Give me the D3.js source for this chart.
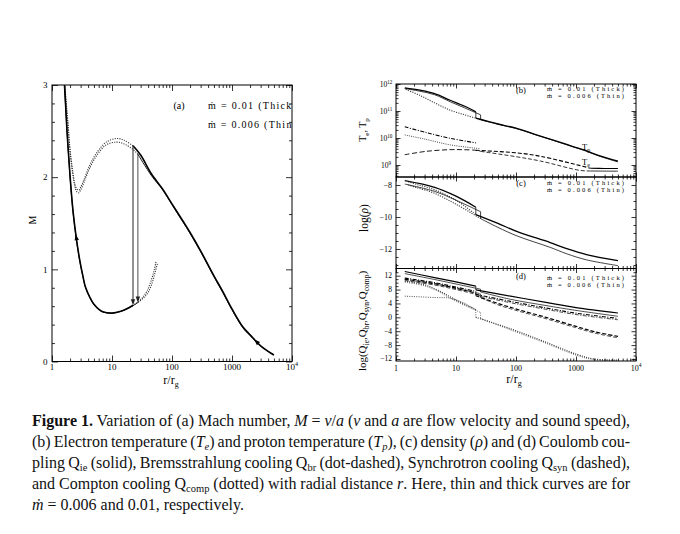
<!DOCTYPE html>
<html><head><meta charset="utf-8">
<script src="https://cdn.jsdelivr.net/npm/d3@7"></script>
<style>
html,body{margin:0;padding:0;background:#fff;}
#wrap{position:relative;width:680px;height:534px;overflow:hidden;background:#fff;}
svg{position:absolute;left:0;top:0;}
.cap{position:absolute;left:32px;height:21px;line-height:21px;white-space:nowrap;font-family:"Liberation Serif","Times New Roman",serif;font-size:16px;color:#111;}
.cap sub{font-size:10.5px;vertical-align:-3px;line-height:0;}
</style></head><body><div id="wrap"></div>
<script>
// ===================== DATA =====================
// common x ticks (r / r_g)
const xMajorTicks = [1, 10, 100, 1000, 10000];
const xTickLabels = [["1"], ["10"], ["100"], ["1000"], ["10", "4"]];

// ---- panel (a): Mach number ----
const mTicks = [0, 1, 2, 3];
const shockR = [22.4, 27];            // thick, thin shock locations
const shockTopM = [2.34, 2.25];
const shockBotM = [0.61, 0.64];
const supR_thick = [5000,4000,3000,2000,1500,1000,700,500,300,200,150,100,70,45,30,22.4,16,12,8,5.5,4.2,3.4,3.0,2.8,2.6,2.4,2.2,2.0,1.85,1.72,1.62];
const supM_thick = [0.07,0.11,0.17,0.29,0.38,0.57,0.76,0.93,1.20,1.40,1.53,1.71,1.87,2.04,2.24,2.34,2.40,2.42,2.38,2.26,2.12,1.97,1.89,1.86,1.87,1.93,2.08,2.30,2.58,2.82,3.05];
const supR_thin = [5000,4000,3000,2000,1500,1000,700,500,300,200,150,100,70,45,27,22.4,16,12,8,5.5,4.2,3.4,3.0,2.8,2.6,2.4,2.2,2.0,1.85,1.72,1.62];
const supM_thin = [0.07,0.11,0.17,0.28,0.37,0.56,0.75,0.92,1.19,1.39,1.52,1.70,1.86,2.02,2.25,2.30,2.36,2.38,2.35,2.23,2.09,1.94,1.86,1.83,1.84,1.90,2.05,2.27,2.55,2.80,3.03];
const subR_thick = [54,50,44,38,32,27,22.4,18,14,10,7,6.2,5,4.25,3.6,3.29,2.9,2.54,2.25,2.05,1.9,1.78,1.68,1.6];
const subM_thick = [1.08,0.98,0.86,0.76,0.69,0.645,0.61,0.575,0.545,0.525,0.54,0.56,0.62,0.70,0.81,0.92,1.10,1.34,1.62,1.92,2.22,2.50,2.80,3.05];
const subR_thin = [57,52,46,40,33,27,22.4,18,14,10,7,6.2,5,4.25,3.6,3.29,2.9,2.54,2.25,2.05,1.9,1.78,1.68,1.6];
const subM_thin = [1.06,0.96,0.84,0.75,0.685,0.64,0.605,0.572,0.543,0.523,0.538,0.558,0.615,0.695,0.805,0.915,1.09,1.33,1.61,1.91,2.21,2.49,2.79,3.04];
const arrowSupR = [2900, 2350], arrowSupM = [0.18, 0.24];
const arrowSubR = [2.75, 2.5], arrowSubM = [1.2, 1.38];

// ---- panel (b): temperatures (K) ----
const tTicks = [1e9, 1e10, 1e11, 1e12];
const tTickLabels = [["10","9"],["10","10"],["10","11"],["10","12"]];
const TpPostThickR = [1.4,2.5,4.4,8,14,21.4];
const TpPostThick  = [7.2e11,5.9e11,4.4e11,2.5e11,1.5e11,9.3e10];
const TpPostThinR  = [1.4,2.5,4.4,8,14,25.7];
const TpPostThin   = [6.8e11,5.4e11,4.0e11,2.2e11,1.3e11,7.2e10];
const TpPreR = [1.45,2.5,4.4,8,14,21.4,25.7];
const TpPre  = [6.3e11,3.8e11,2.0e11,1.07e11,7.2e10,5.4e10,4.7e10];
const TpOutThickR = [21.4,50,100,200,370,700,1350,2500,5000];
const TpOutThick  = [5.4e10,3.3e10,2.3e10,1.4e10,9.1e9,5.8e9,3.6e9,2.2e9,1.4e9];
const TpOutThinR  = [25.7,50,100,200,370,700,1350,2500,5000];
const TpOutThin   = [4.7e10,3.25e10,2.25e10,1.38e10,8.9e9,5.6e9,3.5e9,2.1e9,1.3e9];
const TePostThickR = [1.4,3.16,7.9,21.4];
const TePostThick  = [2.6e10,1.6e10,9.8e9,6.6e9];
const TePostThinR  = [1.4,3.16,7.9,25.7];
const TePostThin   = [1.3e10,8.9e9,5.6e9,4.0e9];
const TePreR = [1.4,3.16,7.9,12.6,21.4,25.7];
const TePre  = [2.4e9,3.2e9,3.7e9,3.7e9,3.5e9,3.2e9];
const TeOutThickR = [21.4,105,257,1175,1740,3000,5000];
const TeOutThick  = [3.5e9,2.8e9,2.1e9,9.5e8,7.6e8,7.45e8,7.4e8];
const TeOutThinR  = [25.7,105,257,1175,1740,3000,5000];
const TeOutThin   = [3.2e9,2.0e9,1.4e9,6.3e8,6.0e8,5.95e8,5.9e8];

// ---- panel (c): log density ----
const rhoTicks = [-8, -10, -12];
const rhoPostThickR = [1.4,4.4,10,21.4],  rhoPostThick = [-7.73,-8.15,-8.7,-9.39];
const rhoPostThinR  = [1.4,4.4,10,25.7],  rhoPostThin  = [-7.94,-8.4,-8.95,-9.67];
const rhoPreThickR  = [1.6,2.3,4.4,10,21.4], rhoPreThick = [-7.8,-7.98,-8.3,-8.95,-9.85];
const rhoPreThinR   = [1.6,2.3,4.4,10,25.7], rhoPreThin  = [-8.0,-8.18,-8.52,-9.2,-10.1];
const rhoOutThickR  = [21.4,50,105,372,700,1500,5000], rhoOutThick = [-9.85,-10.4,-10.92,-11.6,-11.98,-12.35,-12.73];
const rhoOutThinR   = [25.7,50,105,372,700,1500,5000], rhoOutThin  = [-10.1,-10.65,-11.19,-11.9,-12.3,-12.68,-13.04];

// ---- panel (d): log heating / cooling rates ----
const qTicks = [12, 8, 4, 0, -4, -8, -12];
const QieInThickR = [1.4,4.4,10,21.4],  QieInThick = [13.2,11.45,10.2,9.0];
const QieInThinR  = [1.4,4.4,10,25.7],  QieInThin  = [12.6,10.9,9.6,8.1];
const QieOutThickR = [21.4,81,316,1000,5000], QieOutThick = [7.9,6.1,4.3,2.8,1.25];
const QieOutThinR  = [25.7,81,316,1000,5000], QieOutThin  = [7.3,5.2,3.4,2.0,0.3];
const QbrInThickR = [1.4,4.4,10,21.4],  QbrInThick = [11.3,10.0,8.7,7.5];
const QbrInThinR  = [1.4,4.4,10,25.7],  QbrInThin  = [10.9,9.6,8.3,6.8];
const QbrOutThickR = [21.4,81,316,1000,5000], QbrOutThick = [6.6,4.6,2.7,1.2,-0.3];
const QbrOutThinR  = [25.7,81,316,1000,5000], QbrOutThin  = [6.0,4.2,2.3,0.8,-0.7];
const QsynInThickR = [1.4,4.4,10,21.4], QsynInThick = [11.0,9.7,8.4,7.0];
const QsynInThinR  = [1.4,4.4,10,25.7], QsynInThin  = [10.6,9.3,8.0,6.3];
const QsynOutThickR = [21.4,50,105,316,1000,2000,5000], QsynOutThick = [6.2,4.0,2.3,0.0,-2.6,-4.1,-5.5];
const QsynOutThinR  = [25.7,50,105,316,1000,2000,5000], QsynOutThin  = [5.7,3.6,1.9,-0.4,-3.0,-4.5,-5.9];
const QcompInThickR = [1.4,2.95,5,10,21.4], QcompInThick = [10.4,9.4,7.8,5.0,2.2];
const QcompInThinR  = [1.4,2.95,5,10,25.7], QcompInThin  = [10.1,9.1,7.5,4.6,1.4];
const QcompPreR = [1.4,4.4,8.1,14,21.4], QcompPre = [6.1,5.7,5.5,4.0,2.2];
const QcompOutThickR = [21.4,81,288,1047,2000,5000], QcompOutThick = [0.0,-3.3,-6.9,-10.7,-12.0,-12.3];
const QcompOutThinR  = [25.7,81,288,1047,2000,5000], QcompOutThin  = [-0.3,-3.6,-7.2,-11.0,-12.2,-12.4];

// ---- caption ----
const captionLines = [
 '<b>Figure 1.</b> Variation of (a) Mach number, <i>M</i> = <i>v</i>/<i>a</i> (<i>v</i> and <i>a</i> are flow velocity and sound speed),',
 '(b) Electron temperature (<i>T<sub>e</sub></i>) and proton temperature (<i>T<sub>p</sub></i>), (c) density (<i>ρ</i>) and (d) Coulomb cou-',
 'pling Q<sub>ie</sub> (solid), Bremsstrahlung cooling Q<sub>br</sub> (dot-dashed), Synchrotron cooling Q<sub>syn</sub> (dashed),',
 'and Compton cooling Q<sub>comp</sub> (dotted) with radial distance <i>r</i>. Here, thin and thick curves are for',
 '<i>ṁ</i> = 0.006 and 0.01, respectively.'
];

// ===================== DRAWING =====================
const W = 680, H = 534;
const SERIF = '"Liberation Serif","Times New Roman",serif';
const wrap = d3.select("#wrap");
const svg = wrap.append("svg").attr("width", W).attr("height", H).attr("viewBox", `0 0 ${W} ${H}`)
  .attr("font-family", SERIF).attr("fill", "#000");

const xA = d3.scaleLog().domain([1, 1e4]).range([52, 292]);
const yA = d3.scaleLinear().domain([0, 3]).range([361.5, 85]);
const xR = d3.scaleLog().domain([1, 1e4]).range([396, 636]);
const yB = d3.scaleLog().domain([Math.pow(10, 8.556), 1e12]).range([177, 84]);
const yC = d3.scaleLinear().domain([-13.22, -7.5]).range([268.5, 177]);
const yD = d3.scaleLinear().domain([-12.58, 14.07]).range([361, 268.5]);

function minorLog(lo, hi) { const o = []; for (let e = lo; e < hi; e++) for (let k = 2; k <= 9; k++) o.push(k * Math.pow(10, e)); return o; }

let clipN = 0;
function panel(x, y) {
  const [x0, x1] = x.range(), [yb, yt] = y.range();
  const id = "clip" + (clipN++);
  svg.append("clipPath").attr("id", id).append("rect").attr("x", x0).attr("y", yt).attr("width", x1 - x0).attr("height", yb - yt);
  const g = svg.append("g").attr("clip-path", `url(#${id})`);
  return g;
}
function frame(x, y) {
  const [x0, x1] = x.range(), [yb, yt] = y.range();
  svg.append("rect").attr("x", x0).attr("y", yt).attr("width", x1 - x0).attr("height", yb - yt)
    .attr("fill", "none").attr("stroke", "#000").attr("stroke-width", 1);
}
function ticks(x, y, xMaj, xMin, yMaj, yMin, majLen, minLen) {
  const [x0, x1] = x.range(), [yb, yt] = y.range();
  const g = svg.append("g");
  const mk = (axis, tr, vals, len) => {
    const a = g.append("g").attr("transform", tr).call(axis.tickValues(vals).tickSize(-len).tickFormat(() => ""));
    a.select(".domain").remove();
    a.selectAll("line").attr("stroke", "#000").attr("stroke-width", 0.8);
  };
  mk(d3.axisBottom(x), `translate(0,${yb})`, xMaj, majLen);
  mk(d3.axisBottom(x), `translate(0,${yb})`, xMin, minLen);
  mk(d3.axisTop(x), `translate(0,${yt})`, xMaj, majLen);
  mk(d3.axisTop(x), `translate(0,${yt})`, xMin, minLen);
  mk(d3.axisLeft(y), `translate(${x0},0)`, yMaj, majLen);
  mk(d3.axisLeft(y), `translate(${x0},0)`, yMin, minLen);
  mk(d3.axisRight(y), `translate(${x1},0)`, yMaj, majLen);
  mk(d3.axisRight(y), `translate(${x1},0)`, yMin, minLen);
}
function powText(sel, parts, fs) {
  sel.text(parts[0]);
  if (parts[1]) sel.append("tspan").attr("dy", -fs * 0.4).attr("font-size", fs * 0.68).text(parts[1]);
}
function xLabels(x, yBase, fs) {
  xMajorTicks.forEach((v, i) => {
    const t = svg.append("text").attr("x", x(v)).attr("y", yBase).attr("font-size", fs).attr("text-anchor", "middle");
    powText(t, xTickLabels[i], fs);
  });
}
function lineGen(x, y, curve) {
  return d3.line().x(d => x(d[0])).y(d => y(d[1])).curve(curve || d3.curveCatmullRom.alpha(0.5));
}
function draw(g, pts, x, y, st) {
  g.append("path").datum(pts).attr("d", lineGen(x, y, st.curve)).attr("fill", "none")
    .attr("stroke", st.color || "#000").attr("stroke-width", st.w || 1)
    .attr("stroke-dasharray", st.dash || null).attr("stroke-linejoin", "round");
}
const Z = (a, b) => d3.zip(a, b);
function jump(g, a, b, x, y, st) {   // connect last point of a to first point of b
  draw(g, [a[a.length - 1], b[0]], x, y, Object.assign({}, st, { curve: d3.curveLinear }));
}
function arrowHead(g, x, y, rs, vs, len, hw, color) {
  const p0 = [x(rs[0]), y(vs[0])], p1 = [x(rs[1]), y(vs[1])];
  const ang = Math.atan2(p1[1] - p0[1], p1[0] - p0[0]);
  const c = Math.cos(ang), s = Math.sin(ang);
  const tip = p1, base = [p1[0] - c * len, p1[1] - s * len];
  const l = [base[0] - s * hw, base[1] + c * hw], r = [base[0] + s * hw, base[1] - c * hw];
  g.append("path").attr("d", `M${tip}L${l}L${r}Z`).attr("fill", color || "#000");
}

const SOLID_T = { w: 1.6 }, SOLID_t = { w: 0.9 };
const DOT = { w: 1.1, dash: "1.1,1.3", color: "#333" };

// ---------------- panel (a) ----------------
{
  const g = panel(xA, yA);
  const supT = Z(supR_thick, supM_thick), supt = Z(supR_thin, supM_thin);
  const subT = Z(subR_thick, subM_thick), subt = Z(subR_thin, subM_thin);
  draw(g, supT.filter(d => d[0] <= shockR[0]), xA, yA, DOT);
  draw(g, supt.filter(d => d[0] <= shockR[1]), xA, yA, DOT);
  draw(g, subT.filter(d => d[0] >= shockR[0]), xA, yA, DOT);
  draw(g, subt.filter(d => d[0] >= shockR[1]), xA, yA, DOT);
  draw(g, supT.filter(d => d[0] >= shockR[0]), xA, yA, SOLID_T);
  draw(g, supt.filter(d => d[0] >= shockR[1]), xA, yA, SOLID_t);
  draw(g, subT.filter(d => d[0] <= shockR[0]), xA, yA, SOLID_T);
  draw(g, subt.filter(d => d[0] <= shockR[1]), xA, yA, SOLID_t);
  shockR.forEach((r, i) => {
    draw(g, [[r, shockTopM[i]], [r, shockBotM[i] + 0.03]], xA, yA, { w: i ? 0.8 : 1.0, color: "#222", curve: d3.curveLinear });
    arrowHead(g, xA, yA, [r, r], [shockBotM[i] + 0.15, shockBotM[i]], 6, 2.2, "#222");
  });
  arrowHead(g, xA, yA, arrowSupR, arrowSupM, 6, 2.2);
  arrowHead(g, xA, yA, arrowSubR, arrowSubM, 6, 2.2);
  // legend (clipped by the frame, as in the original)
  g.append("text").attr("x", 179).attr("y", 109).attr("font-size", 10).attr("text-anchor", "middle").text("(a)");
  g.append("text").attr("x", 208).attr("y", 109).attr("font-size", 10).attr("textLength", 88).attr("lengthAdjust", "spacing").text("ṁ = 0.01 (Thick)");
  g.append("text").attr("x", 208).attr("y", 128).attr("font-size", 10).attr("textLength", 88).attr("lengthAdjust", "spacing").text("ṁ = 0.006 (Thin)");

  frame(xA, yA);
  ticks(xA, yA, xMajorTicks, minorLog(0, 4), mTicks, d3.range(0, 3.001, 0.2).filter(v => Math.abs(v - Math.round(v)) > 1e-6), 6, 3);
  xLabels(xA, 370, 9);
  mTicks.forEach(v => svg.append("text").attr("x", 47.5).attr("y", yA(v) + 3.2).attr("font-size", 9).attr("text-anchor", "end").text(v));
  svg.append("text").attr("transform", "translate(36,220) rotate(-90)").attr("font-size", 10).attr("text-anchor", "middle").text("M");
  const xl = svg.append("text").attr("x", 171).attr("y", 384).attr("font-size", 12).attr("text-anchor", "middle");
  xl.append("tspan").text("r/r");
  xl.append("tspan").attr("dy", 3).attr("font-size", 8).text("g");
}

function rightLegend(g, tag, yTag, y1, y2) {
  g.append("text").attr("x", 521).attr("y", yTag).attr("font-size", 8.5).attr("text-anchor", "middle").text(tag);
  g.append("text").attr("x", 547).attr("y", y1).attr("font-size", 6.5).attr("textLength", 77).attr("lengthAdjust", "spacing").text("ṁ = 0.01 (Thick)");
  g.append("text").attr("x", 547).attr("y", y2).attr("font-size", 6.5).attr("textLength", 77).attr("lengthAdjust", "spacing").text("ṁ = 0.006 (Thin)");
}
const LT = { w: 1.3 }, Lt = { w: 0.75 };

// ---------------- panel (b) ----------------
{
  const g = panel(xR, yB);
  draw(g, Z(TpPreR, TpPre), xR, yB, DOT);
  draw(g, Z(TePostThickR, TePostThick), xR, yB, { w: 1.1, dash: "4,1.5,1,1.5" });
  draw(g, Z(TePostThinR, TePostThin), xR, yB, { w: 0.9, dash: "1,1.2", color: "#333" });
  draw(g, Z(TePreR, TePre), xR, yB, { w: 0.9, dash: "5,2.5" });
  const cutTe = 1740;
  draw(g, Z(TeOutThickR, TeOutThick).filter(d => d[0] <= cutTe), xR, yB, { w: 1.1, dash: "4,2" });
  draw(g, Z(TeOutThinR, TeOutThin).filter(d => d[0] <= cutTe), xR, yB, { w: 0.8, dash: "4,2" });
  draw(g, Z(TeOutThickR, TeOutThick).filter(d => d[0] >= cutTe), xR, yB, { w: 1.1 });
  draw(g, Z(TeOutThinR, TeOutThin).filter(d => d[0] >= cutTe), xR, yB, { w: 0.8 });
  const pT = Z(TpPostThickR, TpPostThick), oT = Z(TpOutThickR, TpOutThick);
  const pt = Z(TpPostThinR, TpPostThin), ot = Z(TpOutThinR, TpOutThin);
  draw(g, pT, xR, yB, LT); draw(g, oT, xR, yB, LT); jump(g, pT, oT, xR, yB, Lt);
  draw(g, pt, xR, yB, Lt); draw(g, ot, xR, yB, Lt); jump(g, pt, ot, xR, yB, Lt);
  rightLegend(g, "(b)", 93, 90.5, 97.5);
  frame(xR, yB);
  ticks(xR, yB, xMajorTicks, minorLog(0, 4), tTicks, minorLog(8, 12).filter(v => v >= yB.domain()[0]), 4.5, 2.5);
  tTicks.forEach((v, i) => {
    const t = svg.append("text").attr("x", 386).attr("y", yB(v) + 2.8).attr("font-size", 7.5).attr("text-anchor", "middle");
    powText(t, tTickLabels[i], 7.5);
  });
  const yl = svg.append("text").attr("transform", "translate(366,130) rotate(-90)").attr("font-size", 10).attr("text-anchor", "middle");
  yl.append("tspan").text("T");
  yl.append("tspan").attr("dy", 2.5).attr("font-size", 7).text("e");
  yl.append("tspan").attr("dy", -2.5).text(", T");
  yl.append("tspan").attr("dy", 2.5).attr("font-size", 7).text("p");
  const tp = svg.append("text").attr("x", 582).attr("y", 150).attr("font-size", 8.5);
  tp.append("tspan").text("T"); tp.append("tspan").attr("dy", 2).attr("font-size", 6).text("p");
  const te = svg.append("text").attr("x", 582).attr("y", 165).attr("font-size", 8.5);
  te.append("tspan").text("T"); te.append("tspan").attr("dy", 2).attr("font-size", 6).text("e");
}

// ---------------- panel (c) ----------------
{
  const g = panel(xR, yC);
  draw(g, Z(rhoPreThickR, rhoPreThick), xR, yC, DOT);
  draw(g, Z(rhoPreThinR, rhoPreThin), xR, yC, DOT);
  const pT = Z(rhoPostThickR, rhoPostThick), oT = Z(rhoOutThickR, rhoOutThick);
  const pt = Z(rhoPostThinR, rhoPostThin), ot = Z(rhoOutThinR, rhoOutThin);
  draw(g, pT, xR, yC, LT); draw(g, oT, xR, yC, LT); jump(g, pT, oT, xR, yC, Lt);
  draw(g, pt, xR, yC, Lt); draw(g, ot, xR, yC, Lt); jump(g, pt, ot, xR, yC, Lt);
  rightLegend(g, "(c)", 186, 184.5, 191.5);
  frame(xR, yC);
  ticks(xR, yC, xMajorTicks, minorLog(0, 4), rhoTicks, d3.range(-13, -7.5, 0.5).filter(v => rhoTicks.indexOf(v) < 0), 4.5, 2.5);
  rhoTicks.forEach(v => svg.append("text").attr("x", 392).attr("y", yC(v) + 2.8).attr("font-size", 8).attr("text-anchor", "end").text(String(v).replace("-", "−")));
  const yl = svg.append("text").attr("transform", "translate(368,218) rotate(-90)").attr("font-size", 11.5).attr("text-anchor", "middle");
  yl.append("tspan").text("log(");
  yl.append("tspan").attr("font-style", "italic").text("ρ");
  yl.append("tspan").text(")");
}

// ---------------- panel (d) ----------------
{
  const g = panel(xR, yD);
  const groups = [
    { inT: [QcompInThickR, QcompInThick], outT: [QcompOutThickR, QcompOutThick], inN: [QcompInThinR, QcompInThin], outN: [QcompOutThinR, QcompOutThin], st: { dash: "1,1.3", color: "#333" } },
    { inT: [QsynInThickR, QsynInThick], outT: [QsynOutThickR, QsynOutThick], inN: [QsynInThinR, QsynInThin], outN: [QsynOutThinR, QsynOutThin], st: { dash: "4,2" } },
    { inT: [QbrInThickR, QbrInThick], outT: [QbrOutThickR, QbrOutThick], inN: [QbrInThinR, QbrInThin], outN: [QbrOutThinR, QbrOutThin], st: { dash: "4,1.5,1,1.5" } },
    { inT: [QieInThickR, QieInThick], outT: [QieOutThickR, QieOutThick], inN: [QieInThinR, QieInThin], outN: [QieOutThinR, QieOutThin], st: {} }
  ];
  draw(g, Z(QcompPreR, QcompPre), xR, yD, { w: 0.9, dash: "1,1.3", color: "#444" });
  groups.forEach(G => {
    const a = Z(G.inT[0], G.inT[1]), b = Z(G.outT[0], G.outT[1]);
    const c = Z(G.inN[0], G.inN[1]), d = Z(G.outN[0], G.outN[1]);
    const sT = Object.assign({}, G.st, { w: 1.15 }), sN = Object.assign({}, G.st, { w: 0.7 });
    draw(g, a, xR, yD, sT); draw(g, b, xR, yD, sT); jump(g, a, b, xR, yD, sN);
    draw(g, c, xR, yD, sN); draw(g, d, xR, yD, sN); jump(g, c, d, xR, yD, sN);
  });
  rightLegend(g, "(d)", 278.5, 280, 287);
  frame(xR, yD);
  ticks(xR, yD, xMajorTicks, minorLog(0, 4), qTicks, d3.range(-12, 14, 1).filter(v => qTicks.indexOf(v) < 0), 4.5, 2.5);
  qTicks.forEach(v => svg.append("text").attr("x", 392).attr("y", yD(v) + 2.5).attr("font-size", 7.5).attr("text-anchor", "end").text(String(v).replace("-", "−")));
  xLabels(xR, 370.5, 8);
  const xl = svg.append("text").attr("x", 514).attr("y", 383).attr("font-size", 12).attr("text-anchor", "middle");
  xl.append("tspan").text("r/r");
  xl.append("tspan").attr("dy", 3).attr("font-size", 8).text("g");
  const yl = svg.append("text").attr("transform", "translate(366,321) rotate(-90)").attr("font-size", 11).attr("text-anchor", "middle");
  const sub = (s) => { yl.append("tspan").attr("dy", 2.5).attr("font-size", 7.5).text(s); };
  yl.append("tspan").text("log(Q"); sub("ie");
  yl.append("tspan").attr("dy", -2.5).text(",Q"); sub("br");
  yl.append("tspan").attr("dy", -2.5).text(",Q"); sub("syn");
  yl.append("tspan").attr("dy", -2.5).text(",Q"); sub("comp");
  yl.append("tspan").attr("dy", -2.5).text(")");
}

// ---------------- caption ----------------
const capW = 598;
captionLines.forEach((html, i) => {
  const div = wrap.append("div").attr("class", "cap").style("top", (410 + 21 * i) + "px");
  const span = div.append("span").html(html);
  if (i < captionLines.length - 1) {
    const node = span.node();
    const w = node.getBoundingClientRect().width;
    const n = (node.textContent.match(/ /g) || []).length;
    if (n) span.style("word-spacing", ((capW - w) / n) + "px");
  }
});
</script></body></html>
